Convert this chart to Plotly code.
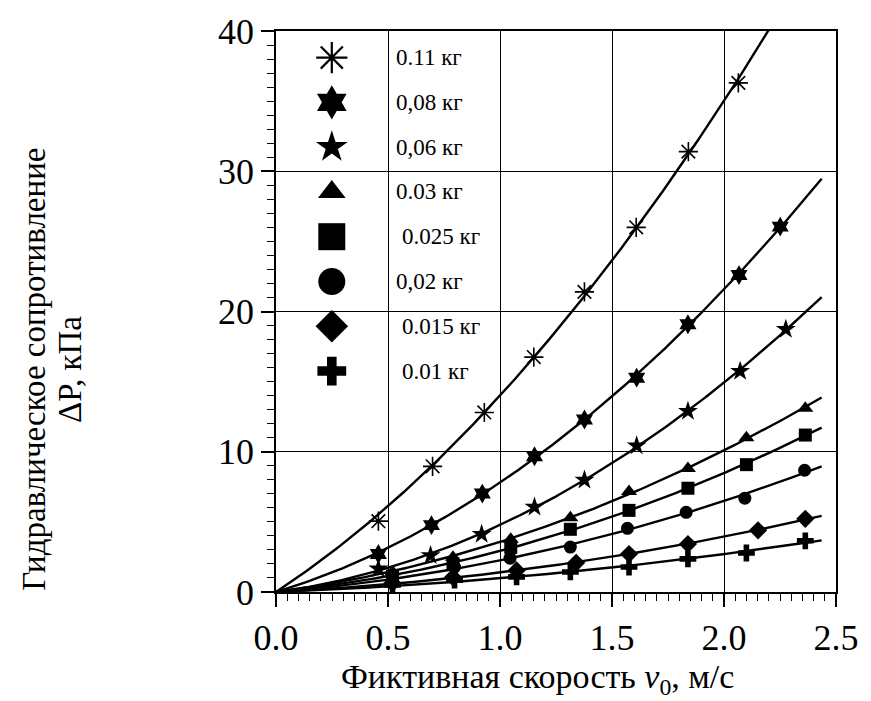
import numpy as np
import plotly.graph_objects as go

# ---------------- data ----------------
labels = ["0.11 кг", "0,08 кг", "0,06 кг", "0.03 кг", "0.025 кг", "0,02 кг", "0.015 кг", "0.01 кг"]
symbols = ["asterisk-open", "hexagram", "star", "triangle-up", "square", "circle", "diamond", "cross"]

x_011 = [0.457, 0.699, 0.930, 1.151, 1.377, 1.608, 1.841, 2.064]
y_011 = [5.05, 8.96, 12.8, 16.75, 21.4, 26.0, 31.4, 36.3]

x_008 = [0.457, 0.694, 0.921, 1.154, 1.377, 1.610, 1.839, 2.067, 2.251]
y_008 = [2.71, 4.77, 7.02, 9.68, 12.3, 15.28, 19.09, 22.6, 26.05]

x_006 = [0.457, 0.690, 0.918, 1.154, 1.377, 1.610, 1.839, 2.072, 2.276]
y_006 = [1.66, 2.60, 4.12, 6.06, 7.98, 10.43, 12.89, 15.74, 18.74]

x_003 = [0.52, 0.790, 1.048, 1.314, 1.576, 1.839, 2.100, 2.363]
y_003 = [1.45, 2.48, 3.77, 5.29, 7.16, 8.80, 11.0, 13.1]

x_0025 = [0.52, 0.790, 1.048, 1.314, 1.576, 1.839, 2.100, 2.363]
y_0025 = [1.15, 2.01, 3.18, 4.47, 5.82, 7.40, 9.08, 11.19]

x_002 = [0.52, 0.797, 1.045, 1.314, 1.569, 1.831, 2.093, 2.360]
y_002 = [0.95, 1.78, 2.41, 3.20, 4.54, 5.68, 6.69, 8.68]

x_0015 = [0.52, 0.790, 1.074, 1.340, 1.576, 1.839, 2.152, 2.363]
y_0015 = [0.64, 1.05, 1.54, 2.08, 2.71, 3.42, 4.40, 5.22]

x_001 = [0.52, 0.797, 1.074, 1.314, 1.576, 1.839, 2.100, 2.363]
y_001 = [0.50, 0.84, 1.08, 1.43, 1.78, 2.36, 2.78, 3.65]

xs_all = [x_011, x_008, x_006, x_003, x_0025, x_002, x_0015, x_001]
ys_all = [y_011, y_008, y_006, y_003, y_0025, y_002, y_0015, y_001]

fit_xmax = 2.436
x_range = [0, 2.5]
y_range = [0, 40]

y_title_lines = ["Гидравлическое сопротивление", "ΔP, кПа"]
x_title = "Фиктивная скорость <i>v</i><sub>0</sub>, м/с"

# ---------------- style ----------------
FONT = "'Times New Roman', 'Liberation Serif', 'DejaVu Serif', serif"
marker_sizes = [16, 15, 15, 14, 13, 13, 14, 14]
legend_sizes = [26, 26, 24, 24, 27, 27, 25, 24]
legend_text_indent = [0, 0, 0, 0, 6, 0, 6, 6]

# plot area in pixels: left 276, right 848, top 22, bottom 592
W, H = 871, 701
L, R, T, B = 276, 23, 22, 109
pw, ph = W - L - R, H - T - B


def px_to_paper_x(px):
    return (px - L) / pw


def px_to_paper_y(py):
    return (H - B - py) / ph


def px_to_data_x(px):
    return x_range[0] + px_to_paper_x(px) * (x_range[1] - x_range[0])


def px_to_data_y(py):
    return y_range[0] + px_to_paper_y(py) * (y_range[1] - y_range[0])


fig = go.Figure()

# fitted curves y = a x + b x^2 (least squares through origin)
for xv, yv in zip(xs_all, ys_all):
    xa = np.asarray(xv, float)
    ya = np.asarray(yv, float)
    A = np.column_stack([xa, xa ** 2])
    coef, *_ = np.linalg.lstsq(A, ya, rcond=None)
    xf = np.linspace(0, fit_xmax, 200)
    yf = coef[0] * xf + coef[1] * xf ** 2
    fig.add_trace(go.Scatter(x=xf, y=yf, mode="lines",
                             line=dict(color="black", width=2.4),
                             hoverinfo="skip", showlegend=False))

# data points
for xv, yv, sym, sz, lab in zip(xs_all, ys_all, symbols, marker_sizes, labels):
    fig.add_trace(go.Scatter(
        x=xv, y=yv, mode="markers", name=lab, showlegend=False,
        marker=dict(symbol=sym, size=sz, color="black", opacity=1,
                    line=dict(color="black", width=1.6 if "open" in sym else 0)),
    ))

# manual legend (big markers)
row0, row_step = 49, 45.5
leg_py = [row0 + i * row_step for i in range(len(labels))]
for i, (sym, sz, lab) in enumerate(zip(symbols, legend_sizes, labels)):
    fig.add_trace(go.Scatter(
        x=[px_to_data_x(333)], y=[px_to_data_y(leg_py[i])], mode="markers",
        showlegend=False, hoverinfo="skip", cliponaxis=False,
        marker=dict(symbol=sym, size=sz, color="black", opacity=1,
                    line=dict(color="black", width=2.2 if "open" in sym else 0)),
    ))

annotations = []
for lab, py, ind in zip(labels, leg_py, legend_text_indent):
    annotations.append(dict(
        x=px_to_paper_x(397 + ind), y=px_to_paper_y(py), xref="paper", yref="paper",
        text=lab, showarrow=False, xanchor="left", yanchor="middle",
        font=dict(family=FONT, size=23, color="black"),
    ))

# axis titles
for line, cx in zip(y_title_lines, [28, 65]):
    annotations.append(dict(
        x=px_to_paper_x(cx), y=px_to_paper_y(366), xref="paper", yref="paper",
        text=line, textangle=-90,
        showarrow=False, xanchor="center", yanchor="middle",
        font=dict(family=FONT, size=33, color="black"),
    ))
annotations.append(dict(
    x=px_to_paper_x(543), y=px_to_paper_y(680), xref="paper", yref="paper",
    text=x_title,
    showarrow=False, xanchor="center", yanchor="middle",
    font=dict(family=FONT, size=34, color="black"),
))

shapes = [dict(
    type="rect", xref="paper", yref="paper",
    x0=px_to_paper_x(279), x1=px_to_paper_x(493),
    y0=px_to_paper_y(380), y1=px_to_paper_y(23),
    fillcolor="white", line=dict(width=0), layer="between",
)]

fig.update_layout(
    width=W, height=H,
    margin=dict(l=L, r=R, t=T, b=B),
    paper_bgcolor="white", plot_bgcolor="white",
    showlegend=False,
    font=dict(family=FONT, color="black"),
    annotations=annotations,
    shapes=shapes,
    xaxis=dict(
        range=x_range, tick0=0, dtick=0.5, tickformat=".1f",
        showline=True, linecolor="black", linewidth=1.5, mirror=True,
        ticks="outside", ticklen=13, tickwidth=1.5, tickcolor="black",
        showgrid=True, gridcolor="black", gridwidth=1,
        zeroline=False,
        tickfont=dict(family=FONT, size=36, color="black"),
        minor=dict(dtick=0.05, tick0=0, ticks="outside", ticklen=7,
                   tickwidth=1.2, tickcolor="black", showgrid=False),
    ),
    yaxis=dict(
        range=y_range, tick0=0, dtick=10,
        showline=True, linecolor="black", linewidth=1.5, mirror=True,
        ticks="outside", ticklen=13, tickwidth=1.5, tickcolor="black",
        showgrid=True, gridcolor="black", gridwidth=1,
        zeroline=False,
        tickfont=dict(family=FONT, size=36, color="black"),
        minor=dict(dtick=1, tick0=0, ticks="outside", ticklen=7,
                   tickwidth=1.2, tickcolor="black", showgrid=False),
    ),
)

fig.write_html("out.html")
